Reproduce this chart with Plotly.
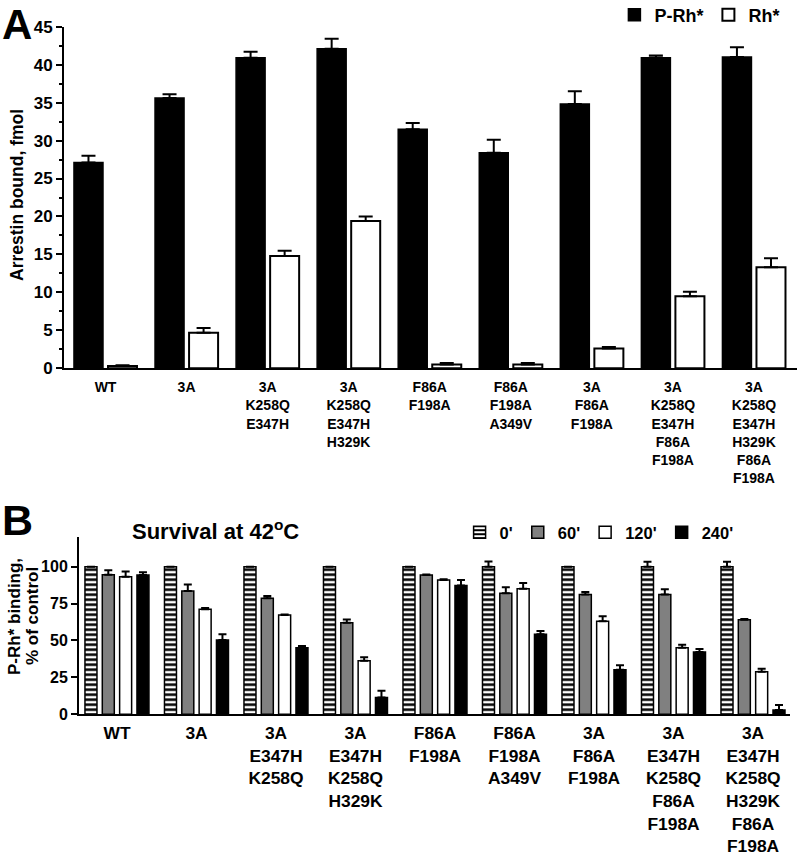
import plotly.graph_objects as go

# ---------------- data ----------------
labels_A = ["WT", "3A", "3A<br>K258Q<br>E347H", "3A<br>K258Q<br>E347H<br>H329K",
            "F86A<br>F198A", "F86A<br>F198A<br>A349V", "3A<br>F86A<br>F198A",
            "3A<br>K258Q<br>E347H<br>F86A<br>F198A",
            "3A<br>K258Q<br>E347H<br>H329K<br>F86A<br>F198A"]
prh_vals = [27.1, 35.6, 40.9, 42.1, 31.5, 28.4, 34.8, 40.9, 41.0]
prh_err = [0.9, 0.5, 0.8, 1.3, 0.8, 1.7, 1.7, 0.3, 1.3]
rh_vals = [0.3, 4.7, 14.8, 19.4, 0.5, 0.5, 2.6, 9.5, 13.3]
rh_err = [0.1, 0.6, 0.7, 0.6, 0.2, 0.2, 0.2, 0.6, 1.2]
ticks_A = [0, 5, 10, 15, 20, 25, 30, 35, 40, 45]

labels_B = ["WT", "3A", "3A<br>E347H<br>K258Q", "3A<br>E347H<br>K258Q<br>H329K",
            "F86A<br>F198A", "F86A<br>F198A<br>A349V", "3A<br>F86A<br>F198A",
            "3A<br>E347H<br>K258Q<br>F86A<br>F198A",
            "3A<br>E347H<br>K258Q<br>H329K<br>F86A<br>F198A"]
time_names = ["0'", "60'", "120'", "240'"]
t0_vals = [100, 100, 100, 100, 100, 100, 100, 100, 100]
t0_err = [0, 0, 0, 0, 0, 3.5, 0, 3.4, 3.4]
t60_vals = [94.6, 83.5, 78.6, 62.1, 94.4, 82.0, 81.1, 81.1, 64.0]
t60_err = [3.0, 4.5, 1.5, 2.2, 0.4, 4.0, 1.8, 3.6, 0.5]
t120_vals = [93.2, 71.1, 67.3, 36.3, 91.0, 85.0, 63.1, 45.0, 28.8]
t120_err = [3.6, 1.0, 0.3, 2.3, 0.5, 4.0, 3.4, 2.2, 2.0]
t240_vals = [94.4, 50.3, 45.1, 11.3, 87.2, 54.2, 30.1, 42.2, 2.9]
t240_err = [1.8, 3.9, 1.2, 4.7, 3.8, 2.2, 3.2, 2.1, 3.4]
ticks_B = [0, 25, 50, 75, 100]

FONT = "Liberation Sans, Arial, sans-serif"
pos_A = list(range(len(labels_A)))
pos_B = list(range(len(labels_B)))

fig = go.Figure()

# ---------------- panel A ----------------
wA = 0.358
fig.add_trace(go.Bar(
    x=pos_A, y=prh_vals, name="P-Rh*", width=wA, offset=-0.389,
    marker=dict(color="black", line=dict(color="black", width=1.5)),
    error_y=dict(type="data", symmetric=False, array=prh_err, arrayminus=[0]*9,
                 color="black", thickness=2, width=7),
    xaxis="x", yaxis="y", legend="legend"))
fig.add_trace(go.Bar(
    x=pos_A, y=rh_vals, name="Rh*", width=wA, offset=0.031,
    marker=dict(color="white", line=dict(color="black", width=2)),
    error_y=dict(type="data", symmetric=False, array=rh_err, arrayminus=[0]*9,
                 color="black", thickness=2, width=7),
    xaxis="x", yaxis="y", legend="legend"))

# ---------------- panel B ----------------
wB = 0.151
offsB = [-0.403, -0.185, 0.033, 0.251]
styles = [
    dict(color="white", pattern=dict(shape="-", fgcolor="black", bgcolor="white",
                                     size=5, solidity=0.5),
         line=dict(color="black", width=1.5)),
    dict(color="#808080", line=dict(color="black", width=1.5)),
    dict(color="white", line=dict(color="black", width=1.5)),
    dict(color="black", line=dict(color="black", width=1.5)),
]
series_B = [(t0_vals, t0_err), (t60_vals, t60_err), (t120_vals, t120_err), (t240_vals, t240_err)]
for i, (vals, err) in enumerate(series_B):
    fig.add_trace(go.Bar(
        x=pos_B, y=vals, name=time_names[i], width=wB, offset=offsB[i],
        marker=styles[i],
        error_y=dict(type="data", symmetric=False, array=err, arrayminus=[0]*9,
                     color="black", thickness=2, width=4),
        xaxis="x2", yaxis="y2", legend="legend2"))

axis_common = dict(showline=True, linecolor="black", linewidth=2, showgrid=False,
                   zeroline=False, mirror=False, automargin=False)

fig.update_layout(
    template="none",
    width=800, height=858, margin=dict(l=0, r=0, t=0, b=0, autoexpand=False),
    paper_bgcolor="white", plot_bgcolor="white",
    barmode="overlay",
    font=dict(family=FONT, color="black", weight="bold"),
    xaxis=dict(domain=[0.08, 0.99625], range=[-0.512, 8.531], anchor="y",
               tickvals=pos_A, ticktext=labels_A, ticks="",
               tickfont=dict(family=FONT, size=14, weight="bold"),
               ticklabelstandoff=5, **axis_common),
    yaxis=dict(domain=[0.5707, 0.9689], range=[0, 45], anchor="x",
               tickvals=ticks_A, ticks="outside", ticklen=6, tickwidth=2,
               tickfont=dict(family=FONT, size=17, weight="bold"),
               minor=dict(dtick=2.5, ticks="outside", ticklen=3, tickwidth=1.5, tickcolor="black"),
               tickcolor="black", **axis_common),
    xaxis2=dict(domain=[0.09875, 0.9875], range=[-0.478, 8.465], anchor="y2",
                tickvals=pos_B, ticktext=labels_B, ticks="",
                tickfont=dict(family=FONT, size=17.4, weight="bold"),
                ticklabelstandoff=2, **axis_common),
    yaxis2=dict(domain=[0.1675, 0.3739], range=[0, 120], anchor="x2",
                tickvals=ticks_B, ticks="outside", ticklen=6, tickwidth=2,
                tickfont=dict(family=FONT, size=16, weight="bold"),
                tickcolor="black", **axis_common),
    legend=dict(orientation="h", x=0.768, y=1.004, xanchor="left", yanchor="top",
                font=dict(family=FONT, size=18, weight="bold"), itemclick=False,
                bgcolor="rgba(0,0,0,0)", borderwidth=0),
    legend2=dict(orientation="h", x=0.5745, y=1.0 - 515/858, xanchor="left", yanchor="top",
                 font=dict(family=FONT, size=16.5, weight="bold"), itemclick=False,
                 bgcolor="rgba(0,0,0,0)", borderwidth=0),
    showlegend=True,
)

annotations = [
    dict(text="A", x=0, y=1.0 - 24/858, xref="paper", yref="paper", xanchor="left",
         yanchor="middle", showarrow=False, font=dict(family=FONT, size=42, weight="bold")),
    dict(text="B", x=0, y=1.0 - 520/858, xref="paper", yref="paper", xanchor="left",
         yanchor="middle", showarrow=False, font=dict(family=FONT, size=43, weight="bold")),
    dict(text="Arrestin bound, fmol", x=17/800, y=1.0 - 195/858, xref="paper", yref="paper",
         textangle=-90, showarrow=False, xanchor="center", yanchor="middle",
         font=dict(family=FONT, size=17.5, weight="bold")),
    dict(text="P-Rh* binding,", x=14/800, y=1.0 - 617/858, xref="paper", yref="paper",
         textangle=-90, showarrow=False, xanchor="center", yanchor="middle",
         font=dict(family=FONT, size=17, weight="bold")),
    dict(text="% of control", x=32/800, y=1.0 - 616/858, xref="paper", yref="paper",
         textangle=-90, showarrow=False, xanchor="center", yanchor="middle",
         font=dict(family=FONT, size=17, weight="bold")),
    dict(text="Survival at 42<sup>o</sup>C", x=215/800, y=1.0 - 530/858, xref="paper",
         yref="paper", showarrow=False, xanchor="center", yanchor="middle",
         font=dict(family=FONT, size=22, weight="bold")),
]
fig.update_layout(annotations=annotations)

fig.write_html("out.html", config={"displayModeBar": False},
               post_script="document.body.style.margin='0px';document.body.style.overflow='hidden';")
